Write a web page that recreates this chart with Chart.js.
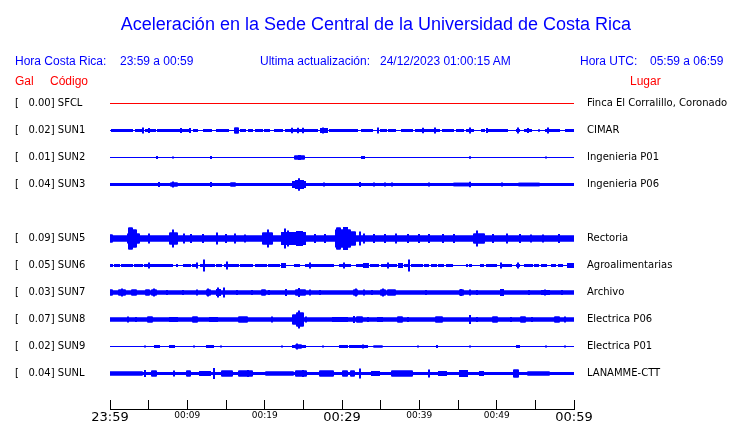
<!DOCTYPE html>
<html>
<head>
<meta charset="utf-8">
<script src="https://cdn.jsdelivr.net/npm/chart.js@4.4.1/dist/chart.umd.min.js"></script>
<style>
  body { margin: 0; background: #fff; }
  #wrap { position: relative; width: 740px; height: 423px; }
  .t { position: absolute; font-family: "Liberation Sans", Arial, sans-serif; line-height: 1; white-space: pre; }
  .blue { color: #0000ff; font-size: 12px; }
  .red { color: #ff0000; font-size: 12px; }
</style>
</head>
<body>
<div id="wrap">
  <canvas id="seis" width="740" height="423"></canvas>
  <div class="t" style="left:0;width:752px;text-align:center;top:15px;font-size:18px;color:#0000ff">Aceleración en la Sede Central de la Universidad de Costa Rica</div>
  <div class="t blue" style="left:15px;top:55px">Hora Costa Rica:</div>
  <div class="t blue" style="left:120px;top:55px">23:59 a 00:59</div>
  <div class="t blue" style="left:260px;top:55px">Ultima actualización:</div>
  <div class="t blue" style="left:380px;top:55px">24/12/2023 01:00:15 AM</div>
  <div class="t blue" style="left:580px;top:55px">Hora UTC:</div>
  <div class="t blue" style="left:650px;top:55px">05:59 a 06:59</div>
  <div class="t red" style="left:15px;top:75px">Gal</div>
  <div class="t red" style="left:50px;top:75px">Código</div>
  <div class="t red" style="left:630px;top:75px">Lugar</div>
</div>
<script>
// stations, one trace row each (SUN4 has no data in this window)
const stations = ['SFCL', 'SUN1', 'SUN2', 'SUN3', 'SUN4', 'SUN5', 'SUN6', 'SUN7', 'SUN8', 'SUN9', 'SUNL'];
const gal = [0.00, 0.02, 0.01, 0.04, null, 0.09, 0.05, 0.03, 0.07, 0.02, 0.04];
const places = ['Finca El Corralillo, Coronado', 'CIMAR', 'Ingenieria P01', 'Ingenieria P06', null,
  'Rectoria', 'Agroalimentarias', 'Archivo', 'Electrica P06', 'Electrica P01', 'LANAMME-CTT'];
const timeTicks = ['23:59', '00:09', '00:19', '00:29', '00:39', '00:49', '00:59'];

// background noise level of each trace (half amplitude)
const noiseLevel = [0.5, 0.5, 0.5, 1.5, null, 3, 0.5, 2, 2, 0.5, 1.5];

// bursts: [start minute, end minute, half amplitude]
const sfclBursts = [];
const sun1Bursts = [[0.2,0.6,1.5],[0.8,1.5,1.5],[1.6,2.1,1.5],[2.3,2.9,1.5],[3.4,4.2,1.5],[4.3,4.3,3],[4.7,5.8,1.5],
  [5.1,5.1,2.5],[6.2,7.7,1.5],[8.0,8.6,1.5],[8.7,10.3,1.5],[9.2,9.2,2.5],[10.3,10.3,2.5],[10.9,11.3,1.5],[12.2,13.1,1.5],
  [13.8,14.2,1.5],[14.5,15.2,1.5],[16.1,16.5,3],[17.0,17.4,1.5],[18.0,18.4,1.5],[18.9,19.6,1.5],[20.0,20.6,1.5],
  [21.3,22.2,1.5],[22.8,25.2,1.5],[23.5,23.5,2.8],[24.3,24.3,2.8],[25.0,25.0,2.8],[25.5,26.8,1.5],[27.3,28.0,2.5],
  [27.6,27.6,3],[28.4,31.9,1.5],[32.6,33.9,1.5],[34.6,34.6,3],[35.1,35.7,1.5],[36.1,36.8,1.5],[37.7,39.1,1.5],
  [39.6,40.9,1.5],[40.5,40.5,2.8],[41.1,42.6,1.5],[42.0,42.0,3],[43.0,44.3,1.5],[44.9,45.6,1.5],[46.2,46.9,1.5],
  [46.6,46.6,3],[48.1,48.4,1.5],[48.7,49.9,1.5],[48.8,48.8,2.5],[50.1,51.3,1.5],[52.6,52.9,1.5],[52.7,52.7,3],
  [53.6,54.5,1.5],[54.1,54.1,2.5],[55.5,55.5,1.2],[56.4,58.1,1.5],[56.6,56.6,3],[59.0,60,1.5]];
const sun2Bursts = [[6.1,6.1,1.5],[8.1,8.1,1],[13.1,13.1,1.5],[23.9,25.1,2],[24.4,24.6,2.5],[32.6,32.8,1.5],
  [46.5,46.5,1.2],[56.4,56.4,1]];
const sun3Bursts = [[6.3,6.3,2.5],[7.9,8.6,2],[8.1,8.1,3],[13.1,13.1,2.5],[15.7,16.1,2],[23.6,25.2,3.5],
  [24.0,24.9,4.5],[24.5,24.5,6.3],[27.7,27.7,2],[32.3,32.3,2.5],[34.2,34.2,2],[35.5,35.5,2],[36.5,36.5,2],
  [41.3,41.3,2],[44.5,46.5,1.8],[46.5,46.5,2.7],[50.7,50.7,2],[52.9,55.5,1.8]];
const sun4Bursts = [];
const sun5Bursts = [[0,0.3,4],[2.3,3.8,5],[2.5,2.9,11],[3.0,3.3,9],[5.1,5.1,5],[7.7,8.7,6],[8.2,8.2,9],[9.6,9.6,5],
  [10.5,10.5,4.5],[12,12,4.5],[13.9,13.9,6],[15,15,4.5],[16.1,16.1,5],[17.5,17.5,4],[19.8,20.9,6],[20.4,20.4,9],
  [22.3,25.2,6.5],[22.6,22.6,10],[23.0,23.0,8],[24.2,24.8,7.5],[26.5,26.5,4.5],[27.8,27.8,4.5],[29.2,31.0,9],
  [29.4,29.8,11],[30.2,30.7,11.5],[31.1,31.7,7],[32.3,32.3,7],[32.9,32.9,5],[34.2,34.2,4.5],[35.5,35.5,4.5],
  [37.0,37.0,5],[38.5,38.5,4.5],[40,40,4.5],[41.3,41.3,4.5],[43,43,4.5],[44.5,44.5,4.5],[47.1,48.4,5],[47.5,47.5,8],
  [49.5,49.5,4.5],[51.3,51.3,5],[53,53,4.5],[54.5,54.5,4],[56,56,4],[58,58,4.5]];
const sun6Bursts = [[0,0.3,1.5],[0.6,1.2,1.5],[1.6,2.9,1.5],[3.2,4.1,1.5],[4.5,5.8,1.5],[5.1,5.1,3],[6.1,6.7,1.5],
  [7.0,8.0,1.5],[8.6,8.6,1.5],[9.6,10.3,1.5],[10.7,11.3,1.5],[11.2,11.2,3],[11.8,13.5,1.5],[12.2,12.2,6],
  [13.8,14.4,1.5],[14.9,15.7,1.5],[15.1,15.1,4],[15.7,16.5,1.5],[17.0,18.3,1.5],[18.9,20.2,1.5],[20.6,21.9,1.5],
  [22.2,22.6,2.5],[23.9,24.5,1.5],[25.4,26.1,1.5],[25.8,25.8,3],[26.2,27.1,1.5],[27.3,28.8,1.5],[29.7,31.0,1.5],
  [30.3,30.3,3],[31.9,32.6,1.5],[32.9,33.3,2.5],[33.8,34.6,1.5],[35.2,36.1,1.5],[35.9,35.9,3],[36.4,37.0,1.5],
  [37.4,37.8,2.5],[38.1,38.5,1.5],[38.6,38.6,6],[39.1,40.3,1.5],[40.7,41.1,1.5],[41.6,42.2,1.5],[42.6,43.0,1.5],
  [43.6,44.2,1.5],[46.1,46.2,1.5],[46.5,46.7,1.5],[48.0,48.2,1.5],[48.8,49.9,1.5],[50.6,50.6,3],[50.7,51.9,1.5],
  [52.6,52.9,1.5],[52.7,52.7,3],[53.6,54.6,1.5],[54.9,55.3,1.5],[55.8,56.4,1.5],[57.1,57.5,1.5],[58.1,58.5,1.5],
  [59.2,60,2.5]];
const sun7Bursts = [[0,0.3,3],[1.2,1.9,3],[1.5,1.5,4],[2.9,3.4,3],[4.7,5.1,3],[5.4,6.0,3],[5.7,5.7,4],[7.4,7.4,2.5],
  [9.4,9.4,2.5],[11.2,11.2,3],[12.5,12.9,3],[12.7,12.7,4],[13.8,14.2,3.5],[14.0,14.0,5],[14.7,14.7,5],[16.4,16.4,2.5],
  [18.4,18.4,2.5],[19.6,20.0,3],[20.6,20.6,2.5],[22.8,22.8,3.5],[24.1,25.2,3],[24.5,24.5,4.5],[25.8,25.8,3],
  [27.1,27.1,2.5],[31.6,32.0,3],[31.8,31.8,4],[32.9,32.9,3],[33.9,33.9,2.5],[35.1,35.5,3],[35.3,35.3,4],
  [35.9,36.8,3],[38.3,39.0,2],[40.9,40.9,2.5],[45.2,45.6,3],[45.4,45.4,3.5],[46.5,46.5,3],[47.4,47.4,2.5],
  [50.6,50.8,3.5],[54.2,54.2,2.5],[55.9,56.8,2.5],[56.3,56.3,3],[58.5,58.5,2.5]];
const sun8Bursts = [[2.3,2.3,3],[3.4,3.4,2.5],[4.9,5.4,3],[7.7,8.6,2.5],[10.7,11.2,3],[12.9,13.8,2.5],[16.7,17.7,3],
  [21.0,21.0,3],[23.6,24.9,5],[24.2,24.9,7],[24.5,24.5,9],[25.4,25.4,3],[28.8,30.6,2.5],[31.6,31.6,3.5],
  [31.9,32.6,3],[33.3,33.3,2.5],[34.6,35.2,2.5],[37.2,37.7,3],[38.5,38.5,2.5],[42.2,42.9,3],[46.5,46.5,4.5],
  [47.5,47.5,2.5],[49.5,50.0,3],[51.9,51.9,2.5],[53.2,53.6,3],[54.6,54.6,2.5],[57.5,58.1,3],[58.8,58.8,3]];
const sun9Bursts = [[4.5,4.5,1],[5.8,6.4,1.5],[7.7,8.3,1.5],[10.9,10.9,1],[12.6,13.3,1.5],[14.4,14.4,1],
  [22.2,22.2,1],[23.6,25.2,1.5],[24.0,24.7,2],[24.2,24.2,3],[27.5,27.5,1],[29.7,30.6,1.5],[31.0,33.2,1.5],
  [32.7,32.7,2],[34.2,35.2,1],[39.8,39.8,1],[42.3,42.3,1.5],[46.5,46.5,1],[52.6,52.9,1.5],[56.4,56.4,1],[58.8,58.8,1]];
const sunlBursts = [[0,4.2,2],[4.5,4.5,3.5],[5.4,6.0,3],[8.3,8.3,3],[9.9,10.3,3],[11.6,12.9,2.5],[13.4,13.4,5.5],
  [14.5,15.8,3],[16.7,18.4,3],[17.9,17.9,3.5],[20.2,23.6,2],[24.1,25.4,3],[25.0,25.0,3.5],[27.1,28.8,3],
  [30.1,30.6,3],[31.2,31.6,3],[32.3,32.3,5],[33.9,34.8,2.5],[36.5,39.1,3],[41.3,41.3,4],[42.6,43.5,2.5],
  [45.2,46.1,3.5],[47.8,48.2,2.5],[52.3,52.7,4],[54.0,56.8,2]];

const bursts = [sfclBursts, sun1Bursts, sun2Bursts, sun3Bursts, sun4Bursts, sun5Bursts,
  sun6Bursts, sun7Bursts, sun8Bursts, sun9Bursts, sunlBursts];

const ROW_GAP = 27;
const SPAN = 60;
const SAMPLES = 464;          // one drawn sample per screen pixel column
const STEP = SPAN / SAMPLES;

// step envelope: noise level, raised wherever a burst is active
function envelope(base, list, row) {
  const pts = [];
  for (let k = 0; k <= SAMPLES; k++) {
    const t = k * STEP;
    let a = base;
    list.forEach(([t0, t1, amp]) => {
      if (t >= t0 - STEP / 2 && t < t1 + STEP / 2 && amp > a) a = amp;
    });
    const c = row * ROW_GAP;
    pts.push({ x: t, y: [c - a, c + a] });
  }
  return pts;
}

const datasets = [];
stations.forEach((name, i) => {
  if (noiseLevel[i] == null) return;
  datasets.push({
    label: name,
    data: envelope(noiseLevel[i], bursts[i], i),
    backgroundColor: i === 0 ? '#ff0000' : '#0000ff',
    borderWidth: 0,
    inflateAmount: 0,
    barThickness: 2,
    grouped: false
  });
});

const rowTicks = () => stations.map((s, i) => i).filter(i => gal[i] != null).map(i => ({ value: i * ROW_GAP }));
const yRange = { min: -13.5, max: 305.5, reverse: true };
const noPad = s => { s.paddingTop = 0; s.paddingBottom = 0; };

new Chart(document.getElementById('seis'), {
  type: 'bar',
  data: { datasets },
  options: {
    responsive: false,
    devicePixelRatio: 1,
    animation: false,
    layout: { padding: { left: 15, top: 90, right: 0, bottom: 0 } },
    plugins: { legend: { display: false }, tooltip: { enabled: false }, title: { display: false } },
    scales: {
      x: {
        type: 'linear',
        position: 'bottom',
        offset: false,
        min: 0,
        max: SPAN,
        afterFit: s => { s.height = 14; s.paddingLeft = 0; s.paddingRight = 0; },
        grid: { drawOnChartArea: false, offset: false, tickLength: -9, color: '#000', lineWidth: 1 },
        border: { color: '#000', width: 1 },
        ticks: {
          stepSize: 5,
          autoSkip: false,
          maxRotation: 0,
          padding: 10,
          color: '#000',
          callback: v => (v % 10 === 0 ? timeTicks[v / 10] : ''),
          font: ctx => (ctx.tick && ctx.tick.value % 30 === 0
            ? { family: 'DejaVu Sans', size: 13 }
            : { family: 'DejaVu Sans', size: 9 })
        }
      },
      y: {
        type: 'linear',
        position: 'left',
        ...yRange,
        afterBuildTicks: s => { s.ticks = rowTicks(); },
        afterFit: s => { s.width = 95; noPad(s); },
        grid: { display: false },
        border: { display: false },
        ticks: {
          autoSkip: false,
          crossAlign: 'far',
          color: '#000',
          font: { family: 'DejaVu Sans', size: 10 },
          callback: v => {
            const i = Math.round(v / ROW_GAP);
            return '[   ' + gal[i].toFixed(2) + '] ' + stations[i];
          }
        }
      },
      y2: {
        type: 'linear',
        position: 'right',
        ...yRange,
        afterBuildTicks: s => { s.ticks = rowTicks(); },
        afterFit: s => { s.width = 166; noPad(s); },
        grid: { display: false, drawTicks: false },
        border: { display: false },
        ticks: {
          autoSkip: false,
          padding: 13,
          color: '#000',
          font: { family: 'DejaVu Sans', size: 10 },
          callback: v => places[Math.round(v / ROW_GAP)]
        }
      }
    }
  }
});
</script>
</body>
</html>
